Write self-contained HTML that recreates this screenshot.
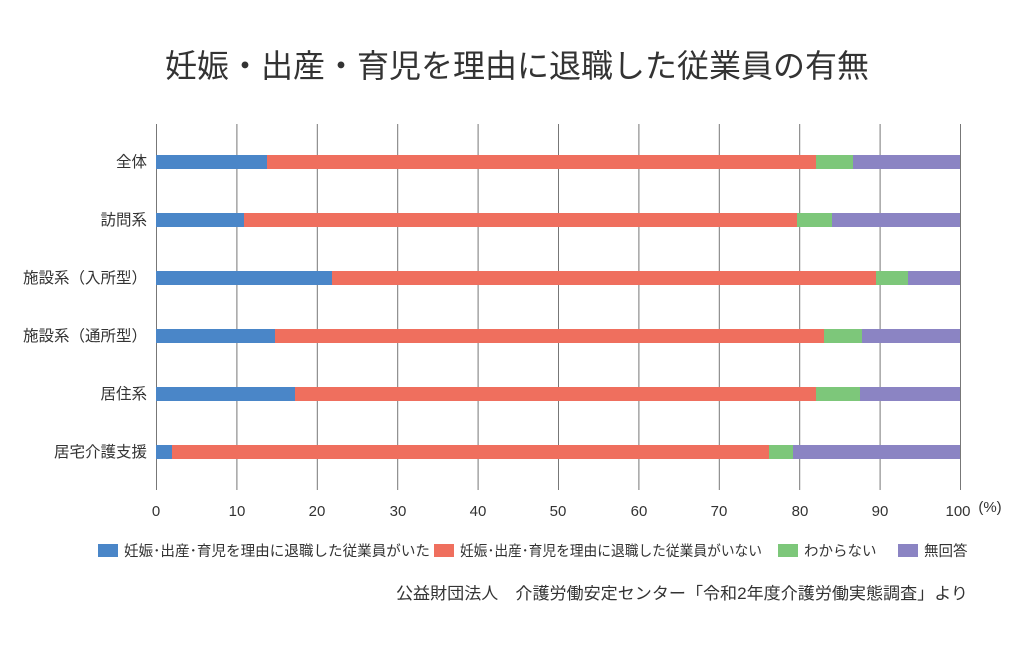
<!DOCTYPE html>
<html><head><meta charset="utf-8"><style>
body{margin:0;background:#fff;font-family:"Liberation Sans","Noto Sans CJK JP",sans-serif;}
</style></head><body>
<svg width="1024" height="640" xmlns="http://www.w3.org/2000/svg" font-family="Liberation Sans, Noto Sans CJK JP, sans-serif">
<text x="517" y="77" font-size="32" text-anchor="middle" fill="#333">妊娠・出産・育児を理由に退職した従業員の有無</text>
<g stroke="#777" stroke-width="1">
<line x1="156.5" y1="124" x2="156.5" y2="490"/>
<line x1="236.9" y1="124" x2="236.9" y2="490"/>
<line x1="317.3" y1="124" x2="317.3" y2="490"/>
<line x1="397.7" y1="124" x2="397.7" y2="490"/>
<line x1="478.1" y1="124" x2="478.1" y2="490"/>
<line x1="558.5" y1="124" x2="558.5" y2="490"/>
<line x1="638.9" y1="124" x2="638.9" y2="490"/>
<line x1="719.3" y1="124" x2="719.3" y2="490"/>
<line x1="799.7" y1="124" x2="799.7" y2="490"/>
<line x1="880.1" y1="124" x2="880.1" y2="490"/>
<line x1="960.5" y1="124" x2="960.5" y2="490"/>
</g>
<g font-size="15" fill="#333" text-anchor="middle">
<text x="156" y="516">0</text><text x="237" y="516">10</text><text x="317" y="516">20</text><text x="398" y="516">30</text><text x="478" y="516">40</text><text x="558" y="516">50</text><text x="639" y="516">60</text><text x="719" y="516">70</text><text x="800" y="516">80</text><text x="880" y="516">90</text><text x="958" y="516">100</text>
<text x="990" y="512">(%)</text>
</g>
<g font-size="15.5" fill="#333" text-anchor="end">
<text x="147" y="167">全体</text>
<text x="147" y="225">訪問系</text>
<text x="147" y="283">施設系（入所型）</text>
<text x="147" y="341">施設系（通所型）</text>
<text x="147" y="399">居住系</text>
<text x="147" y="457">居宅介護支援</text>
</g>
<g>
<rect x="156" y="155" width="111" height="14" fill="#4a86c8"/><rect x="267" y="155" width="549" height="14" fill="#ef6f5e"/><rect x="816" y="155" width="37" height="14" fill="#7dc77a"/><rect x="853" y="155" width="107" height="14" fill="#8b84c3"/>
<rect x="156" y="213" width="88" height="14" fill="#4a86c8"/><rect x="244" y="213" width="553" height="14" fill="#ef6f5e"/><rect x="797" y="213" width="35" height="14" fill="#7dc77a"/><rect x="832" y="213" width="128" height="14" fill="#8b84c3"/>
<rect x="156" y="271" width="176" height="14" fill="#4a86c8"/><rect x="332" y="271" width="544" height="14" fill="#ef6f5e"/><rect x="876" y="271" width="32" height="14" fill="#7dc77a"/><rect x="908" y="271" width="52" height="14" fill="#8b84c3"/>
<rect x="156" y="329" width="119" height="14" fill="#4a86c8"/><rect x="275" y="329" width="549" height="14" fill="#ef6f5e"/><rect x="824" y="329" width="38" height="14" fill="#7dc77a"/><rect x="862" y="329" width="98" height="14" fill="#8b84c3"/>
<rect x="156" y="387" width="139" height="14" fill="#4a86c8"/><rect x="295" y="387" width="521" height="14" fill="#ef6f5e"/><rect x="816" y="387" width="44" height="14" fill="#7dc77a"/><rect x="860" y="387" width="100" height="14" fill="#8b84c3"/>
<rect x="156" y="445" width="16" height="14" fill="#4a86c8"/><rect x="172" y="445" width="597" height="14" fill="#ef6f5e"/><rect x="769" y="445" width="24" height="14" fill="#7dc77a"/><rect x="793" y="445" width="167" height="14" fill="#8b84c3"/>
</g>
<g font-size="14.5" fill="#333">
<rect x="98" y="544" width="20" height="13" fill="#4a86c8"/><text x="124" y="556" textLength="306" lengthAdjust="spacingAndGlyphs">妊娠･出産･育児を理由に退職した従業員がいた</text>
<rect x="434" y="544" width="20" height="13" fill="#ef6f5e"/><text x="460" y="556" textLength="302" lengthAdjust="spacingAndGlyphs">妊娠･出産･育児を理由に退職した従業員がいない</text>
<rect x="778" y="544" width="20" height="13" fill="#7dc77a"/><text x="804" y="556">わからない</text>
<rect x="898" y="544" width="20" height="13" fill="#8b84c3"/><text x="924" y="556">無回答</text>
</g>
<text x="396" y="599" font-size="16.5" fill="#333" textLength="572" lengthAdjust="spacingAndGlyphs">公益財団法人　介護労働安定センター「令和2年度介護労働実態調査」より</text>
</svg>
</body></html>
